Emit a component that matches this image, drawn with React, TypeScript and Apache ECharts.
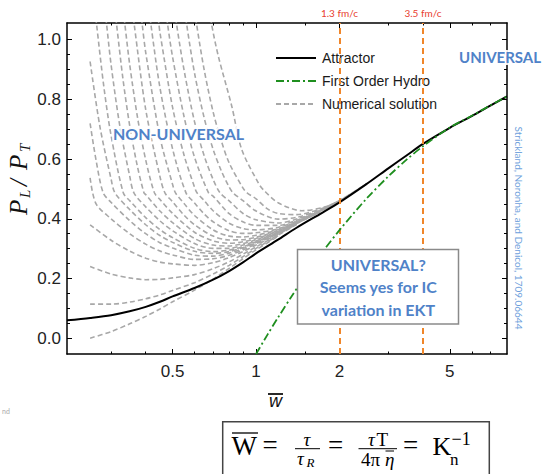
import React, { useEffect, useRef } from "react";
import * as echarts from "echarts";

// ---------- axis ranges and ticks ----------
const X_MIN = 0.208;
const X_MAX = 8.04;
const Y_MIN = -0.053;
const Y_MAX = 1.056;
const xMajorTicks = [0.5, 1, 2, 5];
const xMinorTicks = [0.3, 0.4, 0.6, 0.7, 0.8, 0.9, 1.5, 3, 4, 6, 7];
const yMajorTicks = [0, 0.2, 0.4, 0.6, 0.8, 1.0];
const yMinorTicks = [0.05, 0.1, 0.15, 0.25, 0.3, 0.35, 0.45, 0.5, 0.55, 0.65, 0.7, 0.75, 0.85, 0.9, 0.95];

// ---------- attractor ----------
const attractorW = [0.208, 0.252, 0.3, 0.35, 0.4, 0.45, 0.5, 0.6, 0.7, 0.8, 0.9, 1.0, 1.2, 1.4, 1.7, 2.0, 2.5, 3.0, 3.5, 4.0, 5.0, 6.0, 7.0, 8.04];
const attractorV = [0.06, 0.068, 0.077, 0.09, 0.105, 0.122, 0.14, 0.168, 0.196, 0.225, 0.255, 0.284, 0.33, 0.37, 0.416, 0.455, 0.516, 0.569, 0.613, 0.651, 0.705, 0.744, 0.779, 0.81];

// ---------- first order hydro ----------
const hydroW = [1.0, 1.1, 1.2, 1.35, 1.5, 1.75, 2.0, 2.5, 3.0, 3.5, 4.0, 5.0, 6.0, 7.0, 8.04];
const hydroV = [-0.053, 0.012, 0.069, 0.143, 0.206, 0.293, 0.362, 0.467, 0.542, 0.599, 0.643, 0.706, 0.745, 0.78, 0.81];

// ---------- numerical solutions [w, P_L/P_T] ----------
const solC1 = [[0.252, 0.0], [0.3, 0.022], [0.35, 0.048], [0.4, 0.073], [0.45, 0.098], [0.5, 0.122], [0.6, 0.161], [0.7, 0.198], [0.8, 0.234], [0.9, 0.267], [1.0, 0.296], [1.2, 0.341]];
const solC2 = [[0.252, 0.114], [0.3, 0.114], [0.35, 0.121], [0.4, 0.132], [0.45, 0.145], [0.5, 0.16], [0.6, 0.186], [0.7, 0.215], [0.8, 0.244], [0.9, 0.274], [1.0, 0.301], [1.2, 0.343]];
const solC3 = [[0.252, 0.24], [0.3, 0.215], [0.35, 0.202], [0.4, 0.196], [0.45, 0.197], [0.5, 0.202], [0.6, 0.213], [0.7, 0.233], [0.8, 0.256], [0.9, 0.282], [1.0, 0.306], [1.2, 0.345], [1.4, 0.381]];
const solC4 = [[0.252, 0.38], [0.3, 0.328], [0.35, 0.292], [0.4, 0.268], [0.45, 0.255], [0.5, 0.249], [0.6, 0.244], [0.7, 0.253], [0.8, 0.27], [0.9, 0.291], [1.0, 0.312], [1.2, 0.348], [1.4, 0.382]];
const solC5 = [[0.252, 0.537], [0.2645, 0.451], [0.3, 0.4], [0.35, 0.35], [0.4, 0.315], [0.45, 0.292], [0.5, 0.279], [0.6, 0.264], [0.7, 0.266], [0.8, 0.278], [0.9, 0.296], [1.0, 0.316], [1.2, 0.35], [1.4, 0.383]];
const solC6 = [[0.252, 0.72], [0.2655, 0.59], [0.281, 0.487], [0.3, 0.455], [0.35, 0.394], [0.4, 0.35], [0.45, 0.32], [0.5, 0.302], [0.6, 0.278], [0.7, 0.275], [0.8, 0.285], [0.9, 0.301], [1.0, 0.319], [1.2, 0.351], [1.4, 0.383]];
const solC7 = [[0.252, 0.927], [0.2734, 0.709], [0.3, 0.533], [0.3097, 0.487], [0.35, 0.431], [0.4, 0.38], [0.45, 0.344], [0.5, 0.321], [0.6, 0.291], [0.7, 0.284], [0.8, 0.29], [0.9, 0.304], [1.0, 0.321], [1.2, 0.352], [1.4, 0.384]];
const solT1 = [[0.2623, 1.1], [0.266, 1.05], [0.2827, 0.84], [0.3, 0.679], [0.3319, 0.487], [0.35, 0.461], [0.4, 0.404], [0.45, 0.364], [0.5, 0.337], [0.6, 0.301], [0.7, 0.29], [0.8, 0.295], [0.9, 0.307], [1.0, 0.323], [1.2, 0.353], [1.4, 0.384], [1.7, 0.423]];
const solT2 = [[0.285, 1.1], [0.2891, 1.05], [0.3, 0.916], [0.3228, 0.709], [0.35, 0.544], [0.3627, 0.487], [0.4, 0.44], [0.45, 0.393], [0.5, 0.36], [0.6, 0.317], [0.7, 0.301], [0.8, 0.301], [0.9, 0.312], [1.0, 0.326], [1.2, 0.354], [1.4, 0.385], [1.7, 0.423]];
const solT3 = [[0.3097, 1.1], [0.3141, 1.05], [0.3311, 0.868], [0.35, 0.713], [0.3718, 0.583], [0.3941, 0.487], [0.4, 0.481], [0.45, 0.426], [0.5, 0.387], [0.6, 0.334], [0.7, 0.312], [0.8, 0.309], [0.9, 0.317], [1.0, 0.33], [1.2, 0.356], [1.4, 0.385], [1.7, 0.423]];
const solT4 = [[0.3318, 1.1], [0.3365, 1.05], [0.35, 0.918], [0.374, 0.737], [0.4, 0.597], [0.43, 0.487], [0.45, 0.465], [0.5, 0.418], [0.6, 0.355], [0.7, 0.326], [0.8, 0.318], [0.9, 0.323], [1.0, 0.334], [1.2, 0.358], [1.4, 0.386], [1.7, 0.423]];
const solT5 = [[0.3585, 1.1], [0.3636, 1.05], [0.4, 0.766], [0.45, 0.542], [0.4692, 0.487], [0.5, 0.457], [0.55, 0.412], [0.6, 0.38], [0.7, 0.342], [0.8, 0.329], [0.9, 0.33], [1.0, 0.338], [1.2, 0.36], [1.4, 0.387], [1.7, 0.424]];
const solT6 = [[0.3832, 1.1], [0.3886, 1.05], [0.4, 0.957], [0.45, 0.674], [0.5, 0.515], [0.5121, 0.487], [0.55, 0.451], [0.6, 0.411], [0.7, 0.363], [0.8, 0.342], [0.9, 0.339], [1.0, 0.345], [1.2, 0.363], [1.4, 0.388], [1.7, 0.424]];
const solT7 = [[0.4118, 1.1], [0.4177, 1.05], [0.45, 0.84], [0.5, 0.634], [0.5589, 0.487], [0.6, 0.453], [0.65, 0.416], [0.7, 0.39], [0.8, 0.36], [0.9, 0.351], [1.0, 0.353], [1.2, 0.366], [1.4, 0.39], [1.7, 0.425], [2.0, 0.458]];
const solT8 = [[0.4402, 1.1], [0.4465, 1.05], [0.45, 1.025], [0.5, 0.773], [0.55, 0.613], [0.6, 0.506], [0.6124, 0.487], [0.65, 0.461], [0.7, 0.427], [0.8, 0.385], [0.9, 0.367], [1.0, 0.363], [1.2, 0.371], [1.4, 0.392], [1.7, 0.425], [2.0, 0.458]];
const solT9 = [[0.4732, 1.1], [0.4799, 1.05], [0.5, 0.942], [0.55, 0.742], [0.6, 0.606], [0.674, 0.487], [0.7, 0.476], [0.8, 0.417], [0.9, 0.389], [1.0, 0.378], [1.2, 0.378], [1.4, 0.395], [1.7, 0.426], [2.0, 0.459]];
const solT10 = [[0.51, 1.1], [0.5172, 1.05], [0.55, 0.898], [0.6, 0.725], [0.65, 0.611], [0.7, 0.532], [0.7413, 0.487], [0.8, 0.46], [0.9, 0.417], [1.0, 0.397], [1.2, 0.386], [1.4, 0.399], [1.7, 0.427], [2.0, 0.459]];
const solT11 = [[0.5544, 1.1], [0.5623, 1.05], [0.6, 0.888], [0.65, 0.738], [0.7, 0.633], [0.75, 0.56], [0.8, 0.506], [0.826, 0.487], [0.9, 0.46], [1.0, 0.426], [1.2, 0.399], [1.4, 0.405], [1.7, 0.429], [2.0, 0.46]];
const solT12 = [[0.6022, 1.1], [0.6108, 1.05], [0.65, 0.899], [0.7, 0.758], [0.75, 0.66], [0.8, 0.587], [0.9, 0.501], [0.928, 0.487], [1.0, 0.467], [1.1, 0.433], [1.2, 0.418], [1.4, 0.414], [1.7, 0.432], [2.0, 0.461], [2.5, 0.516]];
const solT13 = [[0.6823, 1.1], [0.692, 1.05], [0.731, 0.945], [0.817, 0.778], [0.888, 0.632], [1.019, 0.52], [1.063, 0.497], [1.205, 0.453], [1.463, 0.427], [1.776, 0.44], [2.04, 0.466], [2.5, 0.517]];
const numericalSolutions = [solC1, solC2, solC3, solC4, solC5, solC6, solC7, solT1, solT2, solT3, solT4, solT5, solT6, solT7, solT8, solT9, solT10, solT11, solT12, solT13];

// ---------- time markers ----------
const markerW = [2, 4];
const markerLabels = ["1.3 fm/c", "3.5 fm/c"];

const BLUE = "#4f82c8";
const SERIF = '"Liberation Serif", "DejaVu Serif", serif';
const SANS = '"Liberation Sans", Arial, sans-serif';

function pairs(w: number[], v: number[]) {
  return w.map((x, i) => [x, v[i]]);
}

function fmtLog(v: number) {
  return String(Number(Math.pow(10, v).toPrecision(6)));
}

function buildOption(): any {
  const lx0 = Math.log10(X_MIN);
  const lx1 = Math.log10(X_MAX);
  const xMajL = xMajorTicks.map((t) => Math.log10(t));
  const xMinL = xMinorTicks.map((t) => Math.log10(t));
  const blackLine = { show: true, onZero: false, lineStyle: { color: "#000", width: 1.5 } };
  const noLine = { show: false, onZero: false };
  const helperX = (position: string, major: boolean, labels: boolean, line: boolean) => ({
    type: "value",
    position,
    min: lx0,
    max: lx1,
    splitLine: { show: false },
    axisLine: line ? blackLine : noLine,
    axisTick: {
      show: true,
      inside: true,
      length: major ? 5 : 2.5,
      lineStyle: { color: "#000", width: 1 },
      customValues: major ? xMajL : xMinL,
    },
    axisLabel: labels
      ? { show: true, customValues: xMajL, formatter: fmtLog, fontSize: 17, color: "#222", fontFamily: SANS, margin: 9 }
      : { show: false },
  });
  const helperY = (position: string, major: boolean, labels: boolean, line: boolean) => ({
    type: "value",
    position,
    min: Y_MIN,
    max: Y_MAX,
    splitLine: { show: false },
    axisLine: line ? blackLine : noLine,
    axisTick: {
      show: true,
      inside: true,
      length: major ? 5 : 3,
      lineStyle: { color: "#000", width: 1 },
      customValues: major ? yMajorTicks : yMinorTicks,
    },
    axisLabel: labels
      ? { show: true, customValues: yMajorTicks, formatter: (v: number) => v.toFixed(1), fontSize: 17, color: "#222", fontFamily: SANS, margin: 6 }
      : { show: false },
  });

  const graySeries = numericalSolutions.map((pts) => ({
    type: "line",
    name: "Numerical solution",
    xAxisIndex: 0,
    yAxisIndex: 0,
    data: pts,
    symbol: "none",
    smooth: 0.3,
    silent: true,
    lineStyle: { color: "#a8a8a8", width: 1.6, type: [5, 3] },
    z: 2,
  }));

  return {
    animation: false,
    backgroundColor: "#fff",
    grid: { left: 67, right: 38, top: 23, bottom: 120, containLabel: false },
    legend: {
      left: 270,
      top: 46,
      orient: "vertical",
      itemWidth: 40,
      itemHeight: 14,
      itemGap: 9,
      selectedMode: false,
      itemStyle: { opacity: 0 },
      data: ["Attractor", "First Order Hydro", "Numerical solution"],
      textStyle: { fontSize: 14, fontFamily: SANS, color: "#1a1a1a", padding: [0, 0, 0, 1] },
    },
    xAxis: [
      { type: "log", logBase: 10, min: X_MIN, max: X_MAX, show: false },
      helperX("bottom", true, true, true),
      helperX("bottom", false, false, false),
      helperX("top", true, false, true),
      helperX("top", false, false, false),
    ],
    yAxis: [
      helperY("left", true, true, true),
      helperY("left", false, false, false),
      helperY("right", true, false, true),
      helperY("right", false, false, false),
    ],
    series: [
      ...graySeries,
      {
        type: "line",
        name: "Attractor",
        xAxisIndex: 0,
        yAxisIndex: 0,
        data: pairs(attractorW, attractorV),
        symbol: "none",
        smooth: 0.3,
        lineStyle: { color: "#000", width: 2 },
        z: 4,
        markLine: {
          silent: true,
          symbol: ["none", "none"],
          lineStyle: { color: "#f0862a", width: 2, type: [6, 4] },
          label: {
            show: true,
            position: "end",
            formatter: (p: any) => p.name,
            color: "#e8402f",
            fontSize: 10,
            fontFamily: "Lato",
            distance: 5,
          },
          data: markerW.map((w, i) => ({ xAxis: w, name: markerLabels[i] })),
        },
      },
      {
        type: "line",
        name: "First Order Hydro",
        xAxisIndex: 0,
        yAxisIndex: 0,
        data: pairs(hydroW, hydroV),
        symbol: "none",
        smooth: 0.3,
        lineStyle: { color: "#1f8f1f", width: 1.8, type: [8, 3, 2, 3] },
        z: 5,
      },
    ],
    graphic: [
      {
        type: "text", x: 113, y: 133, z: 50,
        style: { text: "NON-UNIVERSAL", font: "bold 16px Lato", fill: BLUE, stroke: "rgba(255,255,255,0.9)", lineWidth: 4, align: "left", textAlign: "left", verticalAlign: "middle", textVerticalAlign: "middle" },
      },
      {
        type: "text", x: 459, y: 57, z: 50,
        style: { text: "UNIVERSAL", font: "bold 15px Lato", fill: BLUE, stroke: "rgba(255,255,255,0.9)", lineWidth: 4, align: "left", textAlign: "left", verticalAlign: "middle", textVerticalAlign: "middle" },
      },
      {
        type: "rect", z: 60,
        shape: { x: 297.5, y: 249.5, width: 161, height: 74.5 },
        style: { fill: "#fff", stroke: "#8a8a8a", lineWidth: 1.5 },
      },
      ...["UNIVERSAL?", "Seems yes for IC", "variation in EKT"].map((t, i) => ({
        type: "text", x: 378.3, y: 264.5 + i * 22.3, z: 61,
        style: { text: t, font: "bold 16px Lato", fill: BLUE, align: "center", textAlign: "center", verticalAlign: "middle", textVerticalAlign: "middle" },
      })),
      {
        type: "text", x: 518.5, y: 228, z: 50, rotation: -Math.PI / 2,
        style: { text: "Strickland, Noronha, and Denicol, 1709.06644", font: "10px Lato", fill: "#6f9fdc", align: "center", textAlign: "center", verticalAlign: "middle", textVerticalAlign: "middle" },
      },
      {
        type: "group", x: 18, y: 172, rotation: Math.PI / 2, z: 50,
        children: [
          { type: "text", x: -43, y: 0, style: { text: "P", font: `italic 25px ${SERIF}`, fill: "#111", verticalAlign: "middle", textVerticalAlign: "middle" } },
          { type: "text", x: -26, y: 7, style: { text: "L", font: `italic 15px ${SERIF}`, fill: "#111", verticalAlign: "middle", textVerticalAlign: "middle" } },
          { type: "text", x: -14, y: 0, style: { text: "/", font: `italic 25px ${SERIF}`, fill: "#111", verticalAlign: "middle", textVerticalAlign: "middle" } },
          { type: "text", x: 2, y: 0, style: { text: "P", font: `italic 25px ${SERIF}`, fill: "#111", verticalAlign: "middle", textVerticalAlign: "middle" } },
          { type: "text", x: 20, y: 7, style: { text: "T", font: `italic 15px ${SERIF}`, fill: "#111", verticalAlign: "middle", textVerticalAlign: "middle" } },
        ],
      },
      {
        type: "text", x: 275.5, y: 401, z: 50,
        style: { text: "w", font: `italic 18px ${SANS}`, fill: "#111", align: "center", textAlign: "center", verticalAlign: "middle", textVerticalAlign: "middle" },
      },
      { type: "line", z: 50, shape: { x1: 268, y1: 394, x2: 283, y2: 394 }, style: { stroke: "#111", lineWidth: 1.8 } },
      { type: "text", x: 2, y: 411, z: 50, style: { text: "nd", font: "7px Lato", fill: "#aaa", verticalAlign: "middle", textVerticalAlign: "middle" } },
      // formula box
      {
        type: "rect", z: 10,
        shape: { x: 222.7, y: 421.7, width: 266.6, height: 70 },
        style: { fill: "#fff", stroke: "#444", lineWidth: 1.5 },
      },
      { type: "text", x: 231.5, y: 446, z: 11, style: { text: "W", font: `27px ${SERIF}`, fill: "#000", verticalAlign: "middle", textVerticalAlign: "middle" } },
      { type: "line", z: 11, shape: { x1: 232, y1: 433, x2: 258, y2: 433 }, style: { stroke: "#000", lineWidth: 1.3 } },
      { type: "text", x: 262.5, y: 445, z: 11, style: { text: "=", font: `27px ${SERIF}`, fill: "#000", verticalAlign: "middle", textVerticalAlign: "middle" } },
      { type: "text", x: 307, y: 439, z: 11, style: { text: "τ", font: `italic 19px ${SERIF}`, fill: "#000", align: "center", textAlign: "center", verticalAlign: "middle", textVerticalAlign: "middle" } },
      { type: "line", z: 11, shape: { x1: 295, y1: 448.7, x2: 320, y2: 448.7 }, style: { stroke: "#000", lineWidth: 1 } },
      { type: "text", x: 297, y: 458, z: 11, style: { text: "τ", font: `italic 19px ${SERIF}`, fill: "#000", verticalAlign: "middle", textVerticalAlign: "middle" } },
      { type: "text", x: 306.5, y: 462, z: 11, style: { text: "R", font: `italic 13px ${SERIF}`, fill: "#000", verticalAlign: "middle", textVerticalAlign: "middle" } },
      { type: "text", x: 328, y: 445, z: 11, style: { text: "=", font: `27px ${SERIF}`, fill: "#000", verticalAlign: "middle", textVerticalAlign: "middle" } },
      { type: "text", x: 368, y: 439, z: 11, style: { text: "τ", font: `italic 19px ${SERIF}`, fill: "#000", verticalAlign: "middle", textVerticalAlign: "middle" } },
      { type: "text", x: 376.5, y: 439, z: 11, style: { text: "T", font: `19px ${SERIF}`, fill: "#000", verticalAlign: "middle", textVerticalAlign: "middle" } },
      { type: "line", z: 11, shape: { x1: 358.5, y1: 448.7, x2: 397, y2: 448.7 }, style: { stroke: "#000", lineWidth: 1 } },
      { type: "text", x: 361, y: 459, z: 11, style: { text: "4π", font: `19px ${SERIF}`, fill: "#000", verticalAlign: "middle", textVerticalAlign: "middle" } },
      { type: "text", x: 385, y: 459, z: 11, style: { text: "η", font: `italic 19px ${SERIF}`, fill: "#000", verticalAlign: "middle", textVerticalAlign: "middle" } },
      { type: "line", z: 11, shape: { x1: 385.5, y1: 451, x2: 394, y2: 451 }, style: { stroke: "#000", lineWidth: 1 } },
      { type: "text", x: 403, y: 445, z: 11, style: { text: "=", font: `27px ${SERIF}`, fill: "#000", verticalAlign: "middle", textVerticalAlign: "middle" } },
      { type: "text", x: 432.5, y: 446, z: 11, style: { text: "K", font: `26px ${SERIF}`, fill: "#000", verticalAlign: "middle", textVerticalAlign: "middle" } },
      { type: "text", x: 450, y: 459, z: 11, style: { text: "n", font: `17px ${SERIF}`, fill: "#000", verticalAlign: "middle", textVerticalAlign: "middle" } },
      { type: "text", x: 451.5, y: 439, z: 11, style: { text: "−1", font: `18px ${SERIF}`, fill: "#000", verticalAlign: "middle", textVerticalAlign: "middle" } },
    ],
  };
}

export default function App() {
  const ref = useRef<HTMLDivElement>(null);
  useEffect(() => {
    document.body.style.margin = "0";
    const chart = echarts.init(ref.current!, undefined, { renderer: "svg" });
    chart.setOption(buildOption());
    return () => chart.dispose();
  }, []);
  return <div ref={ref} style={{ width: 545, height: 474, background: "#fff" }} />;
}
